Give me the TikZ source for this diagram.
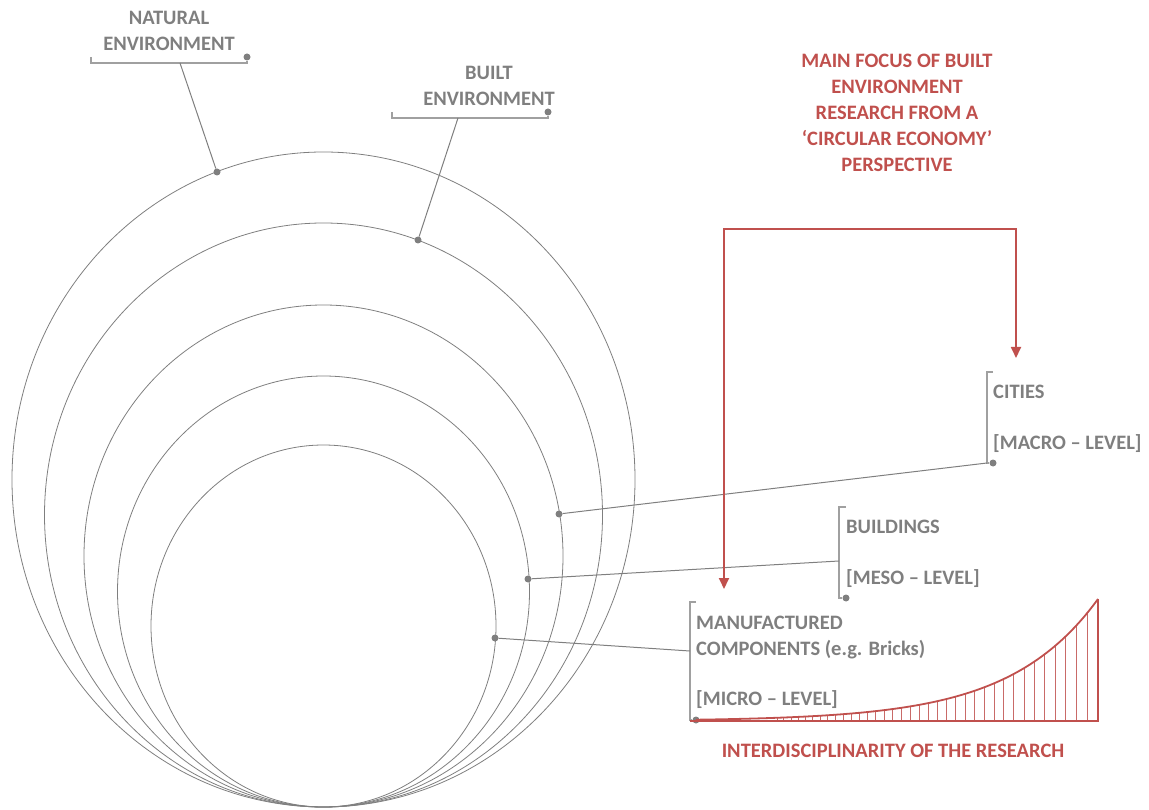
\documentclass[tikz,border=0pt]{standalone}
\usepackage{fontspec}
\setmainfont{Carlito}
\usetikzlibrary{arrows.meta}

\definecolor{ringgray}{RGB}{127,127,127}
\definecolor{bargray}{RGB}{160,160,160}
\definecolor{focusred}{RGB}{192,80,77}

\begin{document}
\begin{tikzpicture}[x=1pt, y=-1pt,
    ring/.style={draw=ringgray, line width=0.8pt},
    leader/.style={draw=ringgray, line width=1pt},
    bracket/.style={draw=bargray, line width=1.5pt},
    tipdot/.style={circle, fill=ringgray, inner sep=0pt, minimum size=7pt},
    ringtext/.style={text=ringgray, inner sep=0pt, font=\fontsize{20.5}{26}\selectfont\bfseries},
    focustext/.style={text=focusred, inner sep=0pt, font=\fontsize{20.5}{26}\selectfont\bfseries},
    redline/.style={draw=focusred, line width=1.8pt},
    hatch/.style={draw=focusred!85, line width=0.9pt}]
    \useasboundingbox (0,0) rectangle (1149,810);

    % Rings {natural, built, cities, buildings, components}
    \draw [ring] (323.5,479.5) ellipse [x radius=311.5pt, y radius=327.5pt];
    \draw [ring] (323.5,515)   ellipse [x radius=279pt,   y radius=292pt];
    \draw [ring] (323.5,556)   ellipse [x radius=239.5pt, y radius=251pt];
    \draw [ring] (323.5,591.5) ellipse [x radius=206pt,   y radius=215.5pt];
    \draw [ring] (323.5,626)   ellipse [x radius=172.5pt, y radius=181pt];

    % Dots on the rings
    \node [tipdot] (natural-dot) at (217,172) {};
    \node [tipdot] (built-dot)   at (418,240) {};
    \node [tipdot] (cities-dot)  at (559,514) {};
    \node [tipdot] (build-dot)   at (528,579) {};
    \node [tipdot] (micro-dot)   at (495,638) {};

    % Labels
    \node [ringtext, align=center, anchor=north] (natural) at (169,11.5) {NATURAL\\ENVIRONMENT};
    \node [ringtext, align=center, anchor=north] (built)   at (489,66.5) {BUILT\\ENVIRONMENT};
    \node [ringtext, anchor=base west] (cities) at (993,398.5) {CITIES};
    \node [ringtext, anchor=base west] (macro)  at (993,449.5) {[MACRO – LEVEL]};
    \node [ringtext, anchor=base west] (buildings) at (846,533.5) {BUILDINGS};
    \node [ringtext, anchor=base west] (meso)      at (846,584.5) {[MESO – LEVEL]};
    \node [ringtext, align=left, anchor=north west] (components) at (696,615.5) {MANUFACTURED\\COMPONENTS (e.g. Bricks)};
    \node [ringtext, anchor=base west] (micro) at (696,705.5) {[MICRO – LEVEL]};
    \node [focustext, align=center, anchor=north] (focus) at (897,53.5)
        {MAIN FOCUS OF BUILT\\ENVIRONMENT\\RESEARCH FROM A\\‘CIRCULAR ECONOMY’\\PERSPECTIVE};
    \node [focustext] (inter) at (893,751) {INTERDISCIPLINARITY OF THE RESEARCH};

    % Brackets
    \node [tipdot] (natural-end) at (247,57) {};
    \node [tipdot] (built-end)   at (548,112) {};
    \node [tipdot] (macro-end)   at (993,463) {};
    \node [tipdot] (meso-end)    at (846,598) {};
    \node [tipdot] (micro-end)   at (696,720) {};
    \draw [bracket] (91,57) -- (91,63) -- (247,63) -- (natural-end);
    \draw [bracket] (392,112) -- (392,118) -- (548,118) -- (built-end);
    \draw [bracket] (993,372) -| (987,463) -- (macro-end);
    \draw [bracket] (846,507) -| (839,598) -- (meso-end);
    \draw [bracket] (696,602) -| (690,720) -- (micro-end);

    % Leaders
    \coordinate (natural-bar) at (180,63);
    \coordinate (built-bar)   at (458,118);
    \coordinate (macro-bar)   at (987,463);
    \coordinate (meso-bar)    at (839,561);
    \coordinate (micro-bar)   at (690,651);
    \draw [leader] (natural-bar) -- (natural-dot);
    \draw [leader] (built-bar)   -- (built-dot);
    \draw [leader] (macro-bar)   -- (cities-dot);
    \draw [leader] (meso-bar)    -- (build-dot);
    \draw [leader] (micro-bar)   -- (micro-dot);

    % Focus arrow
    \coordinate (focus-top)  at (870,229);
    \coordinate (cities-tip) at (1016,358);
    \coordinate (micro-tip)  at (724,589);
    \draw [redline, {Triangle[width=10pt,length=11pt]}-{Triangle[width=10pt,length=11pt]}]
        (micro-tip) -- (micro-tip |- focus-top) -- (cities-tip |- focus-top) -- (cities-tip);

    % Interdisciplinarity curve
    \foreach \i in {0,...,36} {
        \pgfmathsetmacro{\hx}{777+321*(0.77*\i/36+0.23*(\i/36)^2)}
        \draw [hatch] (\hx,721) -- (\hx,{721-122*exp(0.0113*(\hx-1098))});
    }
    \draw [redline] plot [domain=696:1098, samples=120, smooth] (\x,{721-122*exp(0.0113*(\x-1098))});
    \draw [redline] (690,721) -- (1098,721) -- (1098,599);

\end{tikzpicture}
\end{document}
